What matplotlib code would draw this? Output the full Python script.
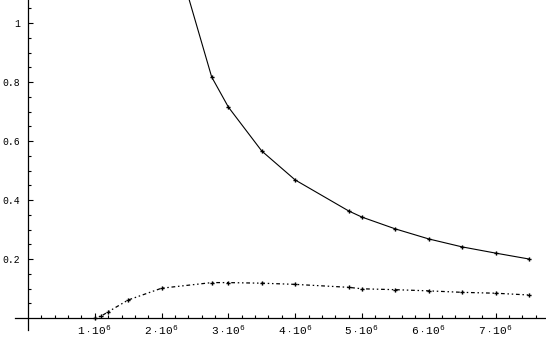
import matplotlib
matplotlib.use("Agg")
import matplotlib.pyplot as plt
from matplotlib.ticker import FixedLocator, NullFormatter

# values (x in units of 1e6)
upper_x = [2.0, 2.75, 3.0, 3.5, 4.0, 4.8, 5.0, 5.5, 6.0, 6.5, 7.0, 7.5]
upper_y = [1.40, 0.817, 0.715, 0.566, 0.468, 0.363, 0.342, 0.302, 0.268, 0.241, 0.220, 0.200]

lower_x = [1.0, 1.1, 1.2, 1.5, 2.0, 2.75, 3.0, 3.5, 4.0, 4.8, 5.0, 5.5, 6.0, 6.5, 7.0, 7.5]
lower_y = [0.0, 0.007, 0.021, 0.061, 0.101, 0.120, 0.120, 0.118, 0.114, 0.104, 0.099,
           0.096, 0.092, 0.087, 0.084, 0.078]

y_ticks = [0.2, 0.4, 0.6, 0.8, 1.0]
y_labels = ["0.2", "0.4", "0.6", "0.8", "1"]
x_ticks = [1, 2, 3, 4, 5, 6, 7]

plt.rcParams["mathtext.fontset"] = "custom"
plt.rcParams["mathtext.rm"] = "Liberation Mono"
plt.rcParams["mathtext.it"] = "Liberation Mono"

fig = plt.figure(figsize=(5.46, 3.38), dpi=100)
ax = fig.add_axes([0, 0, 1, 1])

ax.plot(upper_x, upper_y, color="black", lw=0.8, marker="P", ms=3, mew=0)
ax.plot(lower_x, lower_y, color="black", lw=0.9, ls=(0, (1.2, 2.2, 1.2, 2.2, 3, 2.2)),
        marker="P", ms=3, mew=0)

ax.set_xlim(-0.419, 7.755)
ax.set_ylim(-0.0678, 1.078)

for s in ("top", "right"):
    ax.spines[s].set_visible(False)
ax.spines["left"].set_position(("data", 0))
ax.spines["bottom"].set_position(("data", 0))
ax.spines["left"].set_bounds(-0.04, 1.078)
ax.spines["bottom"].set_bounds(-0.19, 7.755)
ax.spines["left"].set_linewidth(0.9)
ax.spines["bottom"].set_linewidth(0.9)

ax.yaxis.set_major_locator(FixedLocator(y_ticks))
ax.set_yticklabels(y_labels, fontfamily="Liberation Mono", fontsize=7)
ax.yaxis.set_minor_locator(FixedLocator([i * 0.05 for i in range(1, 22) if i % 4]))
ax.xaxis.set_major_locator(FixedLocator(x_ticks))
ax.set_xticklabels([rf"${k}\,\cdot\,10^{{\,6}}$" for k in x_ticks], fontsize=8)
ax.xaxis.set_minor_locator(FixedLocator([i * 0.2 for i in range(1, 39) if i % 5]))
ax.xaxis.set_minor_formatter(NullFormatter())

ax.tick_params(which="major", direction="in", length=3.5, width=0.8, pad=6)
ax.tick_params(which="minor", direction="in", length=2, width=0.8)
ax.tick_params(axis="x", pad=4)

fig.savefig("out.png", dpi=100)
